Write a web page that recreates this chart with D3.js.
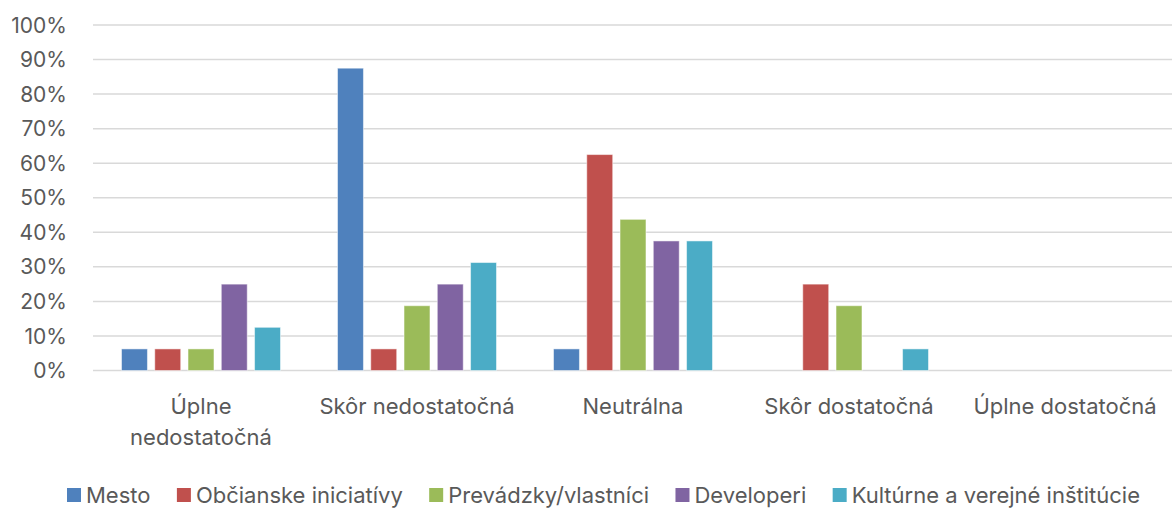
<!DOCTYPE html>
<html>
<head>
<meta charset="utf-8">
<script src="https://cdn.jsdelivr.net/npm/d3@7"></script>
<style>
  body { margin: 0; background: #fff; }
  text { font-family: Inter, "Noto Sans", sans-serif; fill: #595959; }
</style>
</head>
<body>
<div id="chart"></div>
<script>
// data
var categories = ["Úplne nedostatočná", "Skôr nedostatočná", "Neutrálna", "Skôr dostatočná", "Úplne dostatočná"];
var categoryLines = [["Úplne", "nedostatočná"], ["Skôr nedostatočná"], ["Neutrálna"], ["Skôr dostatočná"], ["Úplne dostatočná"]];
var seriesNames = ["Mesto", "Občianske iniciatívy", "Prevádzky/vlastníci", "Developeri", "Kultúrne a verejné inštitúcie"];
var mesto = [6.25, 87.5, 6.25, 0, 0];
var obcianske = [6.25, 6.25, 62.5, 25, 0];
var prevadzky = [6.25, 18.75, 43.75, 18.75, 0];
var developeri = [25, 25, 37.5, 0, 0];
var kulturne = [12.5, 31.25, 37.5, 6.25, 0];
var yTicks = [0, 10, 20, 30, 40, 50, 60, 70, 80, 90, 100];
var colors = ["#4F81BD", "#C0504D", "#9BBB59", "#8064A2", "#4BACC6"];

var seriesValues = [mesto, obcianske, prevadzky, developeri, kulturne];

var width = 1172, height = 510;
var margin = { left: 93 };

var svg = d3.select("#chart").append("svg")
    .attr("width", width)
    .attr("height", height);

// scales
var x = d3.scaleBand()
    .domain(categories)
    .range([margin.left, margin.left + 1080])
    .padding(0);
var xInner = d3.scaleBand()
    .domain(seriesNames)
    .range([28.5, 187.5])
    .paddingInner(0.22)
    .paddingOuter(0);
var y = d3.scaleLinear()
    .domain([0, 100])
    .range([370.5, 25]);

// gridlines
svg.append("g")
    .selectAll("line")
    .data(yTicks)
    .enter().append("line")
    .attr("x1", margin.left)
    .attr("x2", margin.left + 1080)
    .attr("y1", function (d) { return y(d); })
    .attr("y2", function (d) { return y(d); })
    .attr("stroke", "#d9d9d9")
    .attr("stroke-width", 1.5);

// y axis labels
svg.append("g")
    .selectAll("text")
    .data(yTicks)
    .enter().append("text")
    .attr("x", 67)
    .attr("y", function (d) { return y(d); })
    .attr("dy", "0.36em")
    .attr("text-anchor", "end")
    .style("font-size", "21px")
    .text(function (d) { return d + "%"; });

// bars
var groups = svg.append("g")
    .selectAll("g")
    .data(categories)
    .enter().append("g")
    .attr("transform", function (d) { return "translate(" + x(d) + ",0)"; });

groups.selectAll("rect")
    .data(function (d, i) {
        return seriesNames.map(function (s, j) { return { s: s, v: seriesValues[j][i], c: colors[j] }; });
    })
    .enter().append("rect")
    .attr("x", function (d) { return xInner(d.s); })
    .attr("width", xInner.bandwidth())
    .attr("y", function (d) { return y(d.v); })
    .attr("height", function (d) { return y(0) - y(d.v); })
    .attr("fill", function (d) { return d.c; })
    .attr("stroke", "rgba(255,255,255,0.5)")
    .attr("stroke-width", 1);

// x axis labels
var xLabels = svg.append("g")
    .selectAll("text")
    .data(categories)
    .enter().append("text")
    .attr("x", function (d) { return x(d) + x.bandwidth() / 2; })
    .attr("y", 414)
    .attr("text-anchor", "middle")
    .style("font-size", "22px");

xLabels.selectAll("tspan")
    .data(function (d, i) { return categoryLines[i]; })
    .enter().append("tspan")
    .attr("x", function () { return d3.select(this.parentNode).attr("x"); })
    .attr("dy", function (d, i) { return i === 0 ? 0 : 31; })
    .text(function (d) { return d; });

// legend, spread to span 67..1140
var legend = svg.append("g").attr("transform", "translate(0,495)");
var items = seriesNames.map(function (s, i) {
    var g = legend.append("g");
    g.append("rect")
        .attr("x", 0).attr("y", -7)
        .attr("width", 14).attr("height", 14)
        .attr("fill", colors[i]);
    var t = g.append("text")
        .attr("x", 19)
        .attr("dy", "0.36em")
        .style("font-size", "22px")
        .text(s);
    return { g: g, w: 19 + t.node().getComputedTextLength() };
});
var total = d3.sum(items, function (d) { return d.w; });
var gap = (1140 - 67 - total) / (items.length - 1);
var lx = 67;
items.forEach(function (it) {
    it.g.attr("transform", "translate(" + lx + ",0)");
    lx += it.w + gap;
});
</script>
</body>
</html>
